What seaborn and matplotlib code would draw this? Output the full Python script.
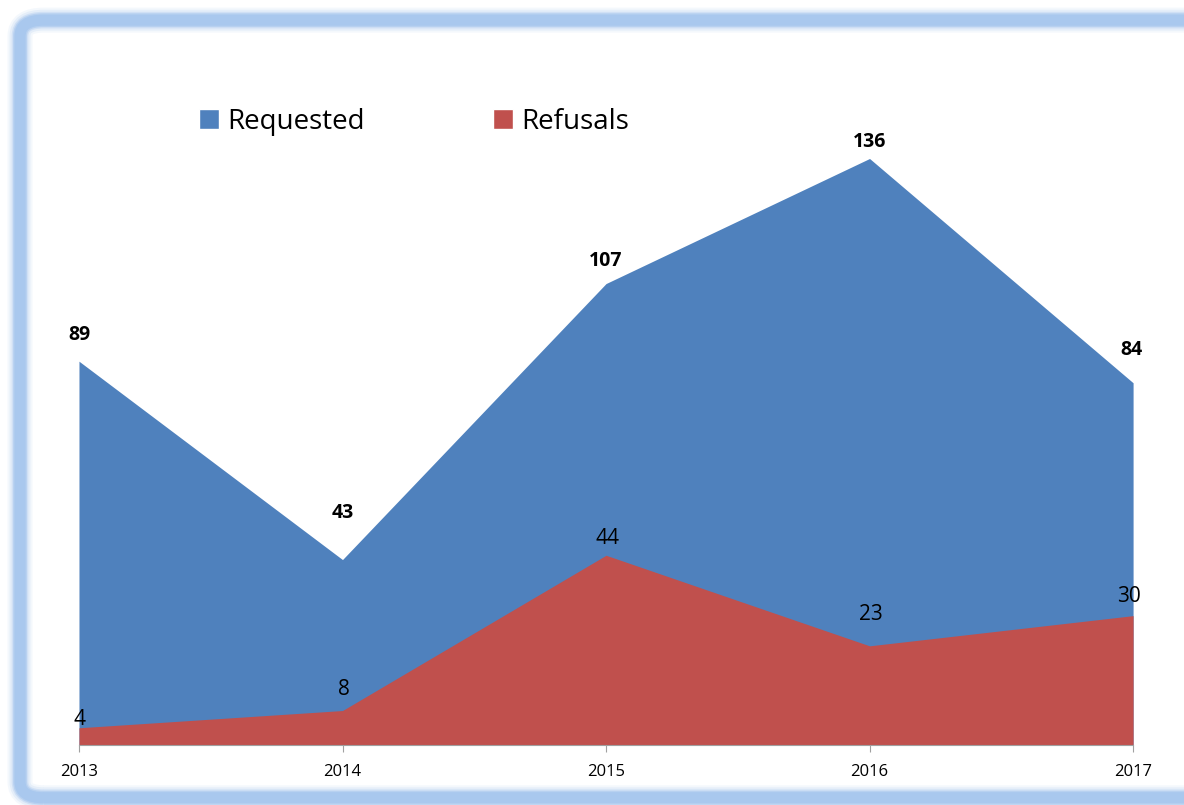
import numpy as np
import pandas as pd
import seaborn as sns
import matplotlib.pyplot as plt
from matplotlib.patches import FancyBboxPatch, Patch

years = ["2013", "2014", "2015", "2016", "2017"]
requested = [89, 43, 107, 136, 84]
refusals = [4, 8, 44, 23, 30]

# label offsets above each point (pixels), as Excel placed them
req_offsets = [26, 47, 23, 16, 33]
ref_offsets = [8, 21, 17, 31, 19]

BLUE = "#4f81bd"
RED = "#c0504d"

sns.set_style("white")
plt.rcParams['font.family'] = ['Open Sans', 'DejaVu Sans']
plt.rcParams['text.color'] = 'black'
plt.rcParams['xtick.color'] = 'black'

df = pd.DataFrame({"year": years, "Requested": requested, "Refusals": refusals})
x = np.arange(len(df))

fig = plt.figure(figsize=(11.84, 8.05), dpi=100)

# soft glowing rounded frame round the chart
for lw, alpha in [(18, 0.12), (15, 0.2), (12, 0.35), (10, 0.6), (8, 1.0)]:
    frame = FancyBboxPatch((0.0169, 0.009), 1.02, 0.966, transform=fig.transFigure,
                           boxstyle="round,pad=0,rounding_size=0.02",
                           fill=False, edgecolor="#a9c8ee", linewidth=lw, alpha=alpha,
                           zorder=0)
    fig.patches.append(frame)

ax = fig.add_axes([0.0667, 0.0745, 0.8903, 0.8572])

# draw the outlines through seaborn, then fill under them
sns.lineplot(x=x, y=df["Requested"], ax=ax, color=BLUE, linewidth=0)
sns.lineplot(x=x, y=df["Refusals"], ax=ax, color=RED, linewidth=0)
ax.fill_between(x, 0, df["Requested"], color=BLUE, linewidth=0, zorder=2)
ax.fill_between(x, 0, df["Refusals"], color=RED, linewidth=0, zorder=3)

for xi, v, off in zip(x, df["Requested"], req_offsets):
    ax.annotate(str(v), (xi, v), xytext=(-2 if xi == x[-1] else 0, off),
                textcoords="offset pixels", ha="center", va="center",
                fontsize=14, fontweight="bold", zorder=5)
for xi, v, off in zip(x, df["Refusals"], ref_offsets):
    ax.annotate(str(v), (xi, v), xytext=(-4 if xi == x[-1] else 1, off),
                textcoords="offset pixels", ha="center", va="center",
                fontsize=15, zorder=5)

ax.set_xlim(0, len(df) - 1)
ax.set_ylim(0, 160)
ax.set_xticks(x)
ax.set_xticklabels(df["year"], fontsize=12)
ax.set_yticks([])
ax.set_xlabel("")
ax.set_ylabel("")
for side in ["top", "left", "right"]:
    ax.spines[side].set_visible(False)
ax.spines["bottom"].set_color("#a0a0a0")
ax.spines["bottom"].set_zorder(6)
ax.tick_params(axis="x", bottom=True, length=5, color="#a0a0a0", pad=9)
ax.patch.set_alpha(0)

handles = [Patch(facecolor=BLUE, label="Requested"), Patch(facecolor=RED, label="Refusals")]
fig.legend(handles=handles, loc="center left", bbox_to_anchor=(0.1473, 0.849), ncol=2,
           frameon=False, fontsize=20, handlelength=0.72, handleheight=0.72,
           handletextpad=0.3, columnspacing=4.6)

fig.savefig("out.png", dpi=100)
